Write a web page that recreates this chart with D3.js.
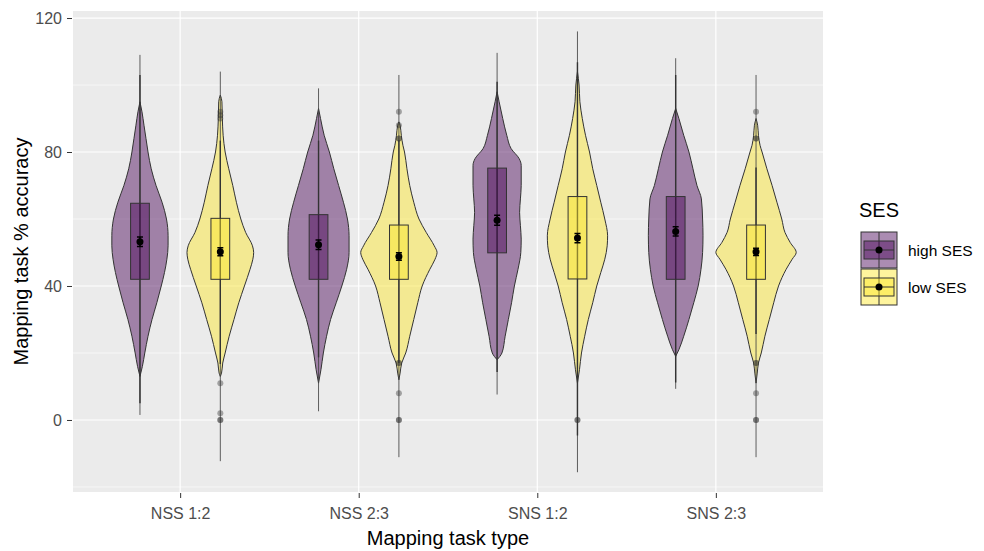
<!DOCTYPE html>
<html>
<head>
<meta charset="utf-8">
<script src="https://cdn.jsdelivr.net/npm/d3@7"></script>
<style>
  body { margin: 0; background: #fff; }
  svg { font-family: Arial, "Liberation Sans", sans-serif; }
</style>
</head>
<body>
<svg id="chart" width="984" height="551"></svg>
<script>
// categories and groups
var categories = ['NSS 1:2', 'NSS 2:3', 'SNS 1:2', 'SNS 2:3'];
var groups = ['high', 'low'];
var groupLabels = ['high SES', 'low SES'];
var yTicks = [0, 40, 80, 120];
var yMinor = [-20, 20, 60, 100];

// boxplot values (per group, per category)
var q1 = { high: [42, 42, 49.9, 42], low: [42, 42, 42.1, 42] };
var q3 = { high: [64.7, 61.3, 75.2, 66.7], low: [60.2, 58.2, 66.7, 58.2] };
var whiskerLo = { high: [5, 18.7, 14.3, 11.2], low: [16.7, 17, -4.6, 25.7] };
var whiskerHi = { high: [103, 83.4, 101, 103], low: [83.4, 83.5, 106.8, 75.4] };
var rangeLo = { high: [1.5, 2.6, 7.6, 9.3], low: [-12.3, -11.1, -15.6, -11.1] };
var rangeHi = { high: [109, 99, 109.6, 108], low: [104, 103, 116, 103] };
var means = { high: [53.2, 52.3, 59.6, 56.3], low: [50.2, 48.8, 54.3, 50.2] };
var meanSE = { high: [1.4, 1.4, 1.5, 1.4], low: [1.2, 1.1, 1.4, 1.1] };
var outliers = {
  high: [[], [], [], []],
  low: [[92, 91, 90, 11, 2, 0, 0], [92, 88, 84, 84, 17, 17, 8, 0, 0], [0, 0], [92, 84, 84, 17, 17, 8, 0, 0]]
};

// violin densities: [accuracy, relative density]
var densHigh = [
  [[95,0],[92,.05],[88,.1],[84,.15],[80,.2],[75,.28],[70,.4],[65,.55],[60,.66],[55,.7],[52,.7],[48,.67],[44,.61],[40,.53],[35,.42],[30,.3],[25,.2],[20,.12],[16,.06],[13,0]],
  [[93,0],[90,.05],[85,.14],[80,.27],[75,.38],[70,.5],[65,.62],[60,.72],[55,.76],[50,.76],[45,.7],[40,.58],[35,.44],[30,.3],[25,.2],[20,.12],[15,.06],[11,0]],
  [[98,0],[95,.05],[90,.14],[85,.24],[81,.35],[78,.55],[76,.6],[70,.6],[66,.58],[62,.56],[58,.58],[54,.6],[50,.59],[45,.52],[40,.43],[35,.36],[30,.28],[25,.2],[20,.12],[18,0]],
  [[93,0],[90,.08],[85,.2],[80,.33],[75,.43],[70,.53],[66,.64],[60,.67],[55,.68],[50,.67],[45,.63],[40,.56],[35,.45],[30,.33],[25,.2],[21,.08],[19,0]]
];
var densLow = [
  [[97,0],[95,.04],[90,.05],[85,.07],[80,.12],[75,.21],[70,.31],[65,.4],[60,.51],[56,.63],[52,.8],[50,.83],[48,.81],[45,.74],[40,.6],[35,.46],[30,.34],[25,.22],[20,.12],[17,.06],[14,.03],[13,0]],
  [[89,0],[88,.03],[85,.06],[82,.1],[80,.14],[75,.2],[70,.27],[65,.37],[60,.5],[56,.68],[52,.88],[50,.95],[48,.9],[45,.77],[40,.58],[35,.47],[30,.37],[25,.27],[20,.17],[17,.07],[14,.03],[12,0]],
  [[104,0],[100,.04],[95,.06],[90,.12],[85,.2],[80,.3],[75,.38],[70,.48],[65,.58],[60,.68],[55,.75],[52,.74],[48,.68],[44,.58],[40,.48],[35,.38],[30,.27],[25,.18],[20,.1],[15,.05],[11,0]],
  [[90,0],[88,.04],[85,.06],[82,.1],[80,.15],[75,.27],[70,.4],[65,.52],[60,.64],[56,.72],[53,.85],[50,1],[48,.9],[45,.75],[40,.56],[35,.44],[30,.33],[25,.22],[20,.13],[17,.06],[14,.03],[11,0]]
];
var densities = { high: densHigh, low: densLow };

var colors = { high: '#440154', low: '#FDE725' };

var svg = d3.select('#chart');
var panel = { left: 73, right: 823, top: 11, bottom: 492 };

var x = d3.scalePoint().domain(categories).range([panel.left, panel.right]).padding(0.6);
var step = x.step();
var dodge = d3.scaleOrdinal().domain(groups).range([-0.225 * step, 0.225 * step]);
var y = d3.scaleLinear().domain([-21.5, 121.8]).range([panel.bottom, panel.top + 1]);
var w = d3.scaleLinear().domain([0, 1]).range([0, 0.225 * step]);

// panel background and grid
svg.append('rect')
  .attr('x', panel.left).attr('y', panel.top)
  .attr('width', panel.right - panel.left).attr('height', panel.bottom - panel.top)
  .attr('fill', '#EBEBEB');

svg.selectAll('.minor').data(yMinor).enter().append('line')
  .attr('x1', panel.left).attr('x2', panel.right)
  .attr('y1', function(d) { return y(d); }).attr('y2', function(d) { return y(d); })
  .attr('stroke', '#fff').attr('stroke-width', 0.6);

svg.selectAll('.major').data(yTicks).enter().append('line')
  .attr('x1', panel.left).attr('x2', panel.right)
  .attr('y1', function(d) { return y(d); }).attr('y2', function(d) { return y(d); })
  .attr('stroke', '#fff').attr('stroke-width', 1.2);

svg.selectAll('.vgrid').data(categories).enter().append('line')
  .attr('x1', function(d) { return x(d); }).attr('x2', function(d) { return x(d); })
  .attr('y1', panel.top).attr('y2', panel.bottom)
  .attr('stroke', '#fff').attr('stroke-width', 1.2);

// axes
var yAxis = d3.axisLeft(y).tickValues(yTicks).tickSize(5).tickPadding(5);
var gy = svg.append('g').attr('transform', 'translate(' + (panel.left - 1) + ',0)').call(yAxis);
var xAxis = d3.axisBottom(x).tickSize(5).tickPadding(10);
var gx = svg.append('g').attr('transform', 'translate(0,' + (panel.bottom + 1) + ')').call(xAxis);
[gx, gy].forEach(function(g) {
  g.select('.domain').remove();
  g.selectAll('.tick line').attr('stroke', '#333');
  g.selectAll('.tick text').attr('fill', '#4D4D4D').style('font-size', '16px').style('font-family', 'Arial, "Liberation Sans", sans-serif');
});

// violins, boxes, points
groups.forEach(function(g) {
  categories.forEach(function(cat, i) {
    var cx = x(cat) + dodge(g);
    var area = d3.area()
      .curve(d3.curveMonotoneY)
      .y(function(d) { return y(d[0]); })
      .x0(function(d) { return cx - w(d[1]); })
      .x1(function(d) { return cx + w(d[1]); });
    svg.append('path')
      .datum(densities[g][i])
      .attr('d', area)
      .attr('fill', colors[g]).attr('fill-opacity', 0.45)
      .attr('stroke', '#333').attr('stroke-width', 1);

    // long thin range line
    svg.append('line')
      .attr('x1', cx).attr('x2', cx)
      .attr('y1', y(rangeLo[g][i])).attr('y2', y(rangeHi[g][i]))
      .attr('stroke', '#444').attr('stroke-width', 1).attr('stroke-opacity', 0.85);
    // whiskers
    svg.append('line')
      .attr('x1', cx).attr('x2', cx)
      .attr('y1', y(whiskerLo[g][i])).attr('y2', y(whiskerHi[g][i]))
      .attr('stroke', '#333').attr('stroke-width', 1.4);

    var bw = 0.105 * step;
    svg.append('rect')
      .attr('x', cx - bw / 2).attr('width', bw)
      .attr('y', y(q3[g][i])).attr('height', y(q1[g][i]) - y(q3[g][i]))
      .attr('fill', colors[g]).attr('fill-opacity', 0.45)
      .attr('stroke', '#333').attr('stroke-width', 1);

    svg.selectAll(null).data(outliers[g][i]).enter().append('circle')
      .attr('cx', cx).attr('cy', function(d) { return y(d); })
      .attr('r', 3)
      .attr('fill', '#333').attr('fill-opacity', 0.4);

    // mean with error bar
    var m = means[g][i], se = meanSE[g][i];
    svg.append('path')
      .attr('d', 'M' + (cx - 3) + ',' + y(m + se) + 'H' + (cx + 3) +
                 'M' + cx + ',' + y(m + se) + 'V' + y(m - se) +
                 'M' + (cx - 3) + ',' + y(m - se) + 'H' + (cx + 3))
      .attr('stroke', '#000').attr('stroke-width', 1.5).attr('fill', 'none');
    svg.append('circle')
      .attr('cx', cx).attr('cy', y(m)).attr('r', 3.5).attr('fill', '#000');
  });
});

// axis titles
svg.append('text')
  .attr('x', (panel.left + panel.right) / 2).attr('y', 545)
  .attr('text-anchor', 'middle').style('font-size', '20px').attr('fill', '#000')
  .text('Mapping task type');
svg.append('text')
  .attr('transform', 'translate(28,' + (panel.top + panel.bottom) / 2 + ') rotate(-90)')
  .attr('text-anchor', 'middle').style('font-size', '20px').attr('fill', '#000')
  .text('Mapping task % accuracy');

// legend
var legend = svg.append('g').attr('transform', 'translate(859,0)');
legend.append('text').attr('x', 0).attr('y', 217)
  .style('font-size', '20px').attr('fill', '#000').text('SES');
groups.forEach(function(g, i) {
  var ky = 232 + i * 37, ks = 36;
  var k = legend.append('g').attr('transform', 'translate(2,' + ky + ')');
  k.append('rect').attr('width', ks).attr('height', ks)
    .attr('fill', colors[g]).attr('fill-opacity', 0.45)
    .attr('stroke', '#333').attr('stroke-width', 1);
  k.append('line').attr('x1', ks / 2).attr('x2', ks / 2).attr('y1', 0).attr('y2', ks)
    .attr('stroke', '#333').attr('stroke-width', 1);
  k.append('rect').attr('x', 3).attr('y', ks * 0.25).attr('width', ks - 6).attr('height', ks * 0.5)
    .attr('fill', colors[g]).attr('fill-opacity', 0.45)
    .attr('stroke', '#333').attr('stroke-width', 1);
  k.append('line').attr('x1', 3).attr('x2', ks - 3).attr('y1', ks / 2).attr('y2', ks / 2)
    .attr('stroke', '#333').attr('stroke-width', 1);
  k.append('circle').attr('cx', ks / 2).attr('cy', ks / 2).attr('r', 3.5).attr('fill', '#000');
  legend.append('text').attr('x', 49).attr('y', ky + ks / 2 + 5.5)
    .style('font-size', '15.5px').attr('fill', '#000').text(groupLabels[i]);
});
</script>
</body>
</html>
